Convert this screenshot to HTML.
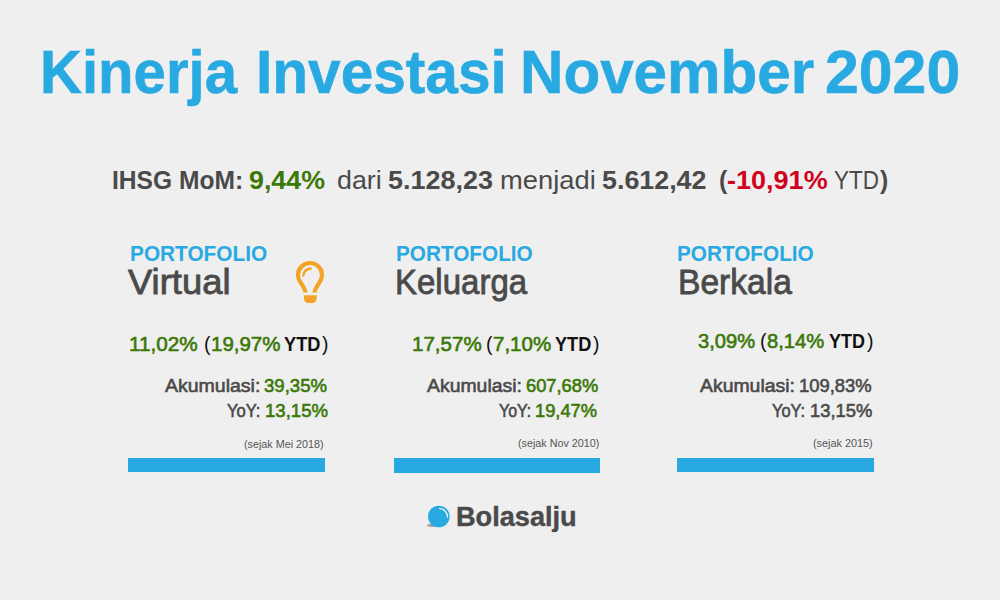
<!DOCTYPE html>
<html><head><meta charset="utf-8"><title>Kinerja Investasi November 2020</title>
<style>
html,body{margin:0;padding:0}
body{width:1000px;height:600px;overflow:hidden;background:#efefef;position:relative;font-family:"Liberation Sans",Arial,sans-serif}
.t{position:absolute;white-space:nowrap;line-height:1;transform-origin:0 0}
.t b{font-weight:700}
.g{color:#3b7808;-webkit-text-stroke-width:0.6px}
</style></head><body>
<div style="position:absolute;left:128px;top:458px;width:197px;height:14px;background:#29a9e1"></div>
<div style="position:absolute;left:394px;top:458px;width:206px;height:15px;background:#29a9e1"></div>
<div style="position:absolute;left:677px;top:458px;width:197px;height:14px;background:#29a9e1"></div>
<svg style="position:absolute;left:290px;top:255px" width="40" height="50" viewBox="290 255 40 50">
  <path d="M305.4,292.5 C305.2,289 303.5,287 301.5,284 C299.5,281 298,278.5 298,275 A12,12 0 0 1 322,275 C322,278.5 320.5,281 318.5,284 C316.5,287 314.8,289 314.6,292.5" fill="none" stroke="#f4a425" stroke-width="4.2"/>
  <path d="M303.3,275.5 A7,7 0 0 1 310.5,268.8" fill="none" stroke="#f4a425" stroke-width="2.6" stroke-linecap="round"/>
  <path d="M303.7,295.2 H316.9 L316.4,299.5 C316.1,301.8 314.6,303 312.6,303 H308 C306,303 304.5,301.8 304.2,299.5 Z" fill="#f4a425"/>
</svg>
<svg style="position:absolute;left:420px;top:500px" width="40" height="35" viewBox="420 500 40 35">
  <ellipse cx="432" cy="525.3" rx="5" ry="1.6" fill="#8a8a8a" opacity="0.8"/>
  <circle cx="438.8" cy="516.5" r="10.8" fill="#29a9e1"/>
  <path d="M439.5,508.3 A9,9 0 0 1 447.6,517.2" fill="none" stroke="#ffffff" stroke-width="1.3" stroke-linecap="round" opacity="0.9"/>
</svg>

<div class="t" id="t1" style="left:40.00px;top:42.01px;font-size:61.05px;font-weight:700;color:#29a9e1;-webkit-text-stroke-width:0.60px;transform:scaleX(0.9518)">Kinerja</div>
<div class="t" id="t2" style="left:256.30px;top:42.01px;font-size:61.05px;font-weight:700;color:#29a9e1;-webkit-text-stroke-width:0.60px;transform:scaleX(0.9597)">Investasi</div>
<div class="t" id="t3" style="left:519.80px;top:42.01px;font-size:61.05px;font-weight:700;color:#29a9e1;-webkit-text-stroke-width:0.60px;transform:scaleX(0.9851)">November</div>
<div class="t" id="t4" style="left:825.40px;top:42.01px;font-size:61.05px;font-weight:700;color:#29a9e1;-webkit-text-stroke-width:0.60px;transform:scaleX(0.9955)">2020</div>
<div class="t" id="s1" style="left:112.05px;top:167.00px;font-size:26.16px;font-weight:700;color:#4a4a4a;transform:scaleX(0.9398)">IHSG MoM:</div>
<div class="t" id="s2" style="left:249.00px;top:167.00px;font-size:26.16px;font-weight:700;color:#3b7808;transform:scaleX(1.0249)">9,44%</div>
<div class="t" id="s3" style="left:337.40px;top:167.00px;font-size:26.16px;font-weight:400;color:#4a4a4a;transform:scaleX(1.0252)">dari</div>
<div class="t" id="s4" style="left:388.40px;top:167.00px;font-size:26.16px;font-weight:700;color:#4a4a4a;transform:scaleX(1.0300)">5.128,23</div>
<div class="t" id="s5" style="left:499.80px;top:167.00px;font-size:26.16px;font-weight:400;color:#4a4a4a;transform:scaleX(1.0451)">menjadi</div>
<div class="t" id="s6" style="left:602.10px;top:167.00px;font-size:26.16px;font-weight:700;color:#4a4a4a;transform:scaleX(1.0261)">5.612,42</div>
<div class="t" id="s7" style="left:719.00px;top:167.00px;font-size:26.16px;font-weight:700;color:#4a4a4a;transform:scaleX(0.9500)">(</div>
<div class="t" id="s8" style="left:727.40px;top:167.00px;font-size:26.16px;font-weight:700;color:#d0021b;transform:scaleX(1.0335)">-10,91%</div>
<div class="t" id="s9" style="left:833.60px;top:167.00px;font-size:26.16px;font-weight:400;color:#4a4a4a;transform:scaleX(0.8600)">YTD</div>
<div class="t" id="s10" style="left:880.40px;top:167.00px;font-size:26.16px;font-weight:700;color:#4a4a4a;transform:scaleX(0.9500)">)</div>
<div class="t" id="p1" style="left:129.50px;top:242.00px;font-size:22.82px;font-weight:700;color:#29a9e1;transform:scaleX(0.9122)">PORTOFOLIO</div>
<div class="t" id="n1" style="left:127.90px;top:265.01px;font-size:34.16px;font-weight:400;color:#4a4a4a;-webkit-text-stroke-width:0.80px;transform:scaleX(1.0653)">Virtual</div>
<div class="t" id="l1_0" style="left:129.20px;top:333.76px;font-size:20.35px;font-weight:400;color:#3b7808;-webkit-text-stroke-width:0.60px;transform:scaleX(1.0185)">11,02%</div>
<div class="t" id="l1_1" style="left:203.70px;top:333.76px;font-size:20.35px;font-weight:400;color:#111111;transform:scaleX(0.9500)">(</div>
<div class="t" id="l1_2" style="left:210.50px;top:333.76px;font-size:20.35px;font-weight:400;color:#3b7808;-webkit-text-stroke-width:0.60px;transform:scaleX(1.0062)">19,97%</div>
<div class="t" id="l1_3" style="left:284.30px;top:333.76px;font-size:20.35px;font-weight:700;color:#111111;transform:scaleX(0.8953)">YTD</div>
<div class="t" id="l1_4" style="left:321.80px;top:333.76px;font-size:20.35px;font-weight:400;color:#111111;transform:scaleX(0.9500)">)</div>
<div class="t" id="a1_0" style="left:164.70px;top:377.01px;font-size:18.75px;font-weight:400;color:#4a4a4a;-webkit-text-stroke-width:0.60px;transform:scaleX(1.0397)">Akumulasi:</div>
<div class="t" id="a1_1" style="left:264.40px;top:377.01px;font-size:18.75px;font-weight:400;color:#3b7808;-webkit-text-stroke-width:0.60px;transform:scaleX(0.9907)">39,35%</div>
<div class="t" id="y1_0" style="left:226.50px;top:402.00px;font-size:18.90px;font-weight:400;color:#4a4a4a;-webkit-text-stroke-width:0.60px;transform:scaleX(0.8766)">YoY:</div>
<div class="t" id="y1_1" style="left:264.50px;top:402.00px;font-size:18.90px;font-weight:400;color:#3b7808;-webkit-text-stroke-width:0.60px;transform:scaleX(0.9845)">13,15%</div>
<div class="t" id="j1" style="left:244.40px;top:438.91px;font-size:11.48px;font-weight:400;color:#555555;transform:scaleX(0.9383)">(sejak Mei 2018)</div>
<div class="t" id="p2" style="left:396.40px;top:242.00px;font-size:22.82px;font-weight:700;color:#29a9e1;transform:scaleX(0.9088)">PORTOFOLIO</div>
<div class="t" id="n2" style="left:395.00px;top:265.01px;font-size:34.16px;font-weight:400;color:#4a4a4a;-webkit-text-stroke-width:0.80px;transform:scaleX(0.9660)">Keluarga</div>
<div class="t" id="l2_0" style="left:411.80px;top:333.76px;font-size:20.35px;font-weight:400;color:#3b7808;-webkit-text-stroke-width:0.60px;transform:scaleX(1.0094)">17,57%</div>
<div class="t" id="l2_1" style="left:485.90px;top:333.76px;font-size:20.35px;font-weight:400;color:#111111;transform:scaleX(0.9500)">(</div>
<div class="t" id="l2_2" style="left:492.80px;top:333.76px;font-size:20.35px;font-weight:400;color:#3b7808;-webkit-text-stroke-width:0.60px;transform:scaleX(1.0075)">7,10%</div>
<div class="t" id="l2_3" style="left:554.90px;top:333.76px;font-size:20.35px;font-weight:700;color:#111111;transform:scaleX(0.8934)">YTD</div>
<div class="t" id="l2_4" style="left:592.80px;top:333.76px;font-size:20.35px;font-weight:400;color:#111111;transform:scaleX(0.9500)">)</div>
<div class="t" id="a2_0" style="left:426.60px;top:377.01px;font-size:18.75px;font-weight:400;color:#4a4a4a;-webkit-text-stroke-width:0.60px;transform:scaleX(1.0353)">Akumulasi:</div>
<div class="t" id="a2_1" style="left:526.10px;top:377.01px;font-size:18.75px;font-weight:400;color:#3b7808;-webkit-text-stroke-width:0.60px;transform:scaleX(0.9756)">607,68%</div>
<div class="t" id="y2_0" style="left:499.10px;top:402.00px;font-size:18.90px;font-weight:400;color:#4a4a4a;-webkit-text-stroke-width:0.60px;transform:scaleX(0.8444)">YoY:</div>
<div class="t" id="y2_1" style="left:535.40px;top:402.00px;font-size:18.90px;font-weight:400;color:#3b7808;-webkit-text-stroke-width:0.60px;transform:scaleX(0.9683)">19,47%</div>
<div class="t" id="j2" style="left:518.10px;top:437.00px;font-size:11.63px;font-weight:400;color:#555555;transform:scaleX(0.9266)">(sejak Nov 2010)</div>
<div class="t" id="p3" style="left:677.40px;top:242.00px;font-size:22.82px;font-weight:700;color:#29a9e1;transform:scaleX(0.9088)">PORTOFOLIO</div>
<div class="t" id="n3" style="left:677.70px;top:265.01px;font-size:34.16px;font-weight:400;color:#4a4a4a;-webkit-text-stroke-width:0.80px;transform:scaleX(0.9826)">Berkala</div>
<div class="t" id="l3_0" style="left:697.60px;top:330.81px;font-size:20.64px;font-weight:400;color:#3b7808;-webkit-text-stroke-width:0.60px;transform:scaleX(0.9763)">3,09%</div>
<div class="t" id="l3_1" style="left:760.30px;top:330.81px;font-size:20.64px;font-weight:400;color:#111111;transform:scaleX(0.9500)">(</div>
<div class="t" id="l3_2" style="left:767.30px;top:330.81px;font-size:20.64px;font-weight:400;color:#3b7808;-webkit-text-stroke-width:0.60px;transform:scaleX(0.9798)">8,14%</div>
<div class="t" id="l3_3" style="left:828.90px;top:330.81px;font-size:20.64px;font-weight:700;color:#111111;transform:scaleX(0.8711)">YTD</div>
<div class="t" id="l3_4" style="left:866.50px;top:330.81px;font-size:20.64px;font-weight:400;color:#111111;transform:scaleX(0.9500)">)</div>
<div class="t" id="a3_0" style="left:700.00px;top:377.01px;font-size:18.75px;font-weight:400;color:#4a4a4a;-webkit-text-stroke-width:0.60px;transform:scaleX(1.0353)">Akumulasi:</div>
<div class="t" id="a3_1" style="left:798.90px;top:377.01px;font-size:18.75px;font-weight:400;color:#4a4a4a;-webkit-text-stroke-width:0.60px;transform:scaleX(0.9810)">109,83%</div>
<div class="t" id="y3_0" style="left:772.20px;top:402.00px;font-size:18.90px;font-weight:400;color:#4a4a4a;-webkit-text-stroke-width:0.60px;transform:scaleX(0.8687)">YoY:</div>
<div class="t" id="y3_1" style="left:810.00px;top:402.00px;font-size:18.90px;font-weight:400;color:#4a4a4a;-webkit-text-stroke-width:0.60px;transform:scaleX(0.9715)">13,15%</div>
<div class="t" id="j3" style="left:813.40px;top:437.00px;font-size:11.63px;font-weight:400;color:#555555;transform:scaleX(0.9337)">(sejak 2015)</div>
<div class="t" id="logo" style="left:456.00px;top:503.01px;font-size:27.62px;font-weight:700;color:#4a4a4a;-webkit-text-stroke-width:0.40px;transform:scaleX(0.9833)">Bolasalju</div>
</body></html>
